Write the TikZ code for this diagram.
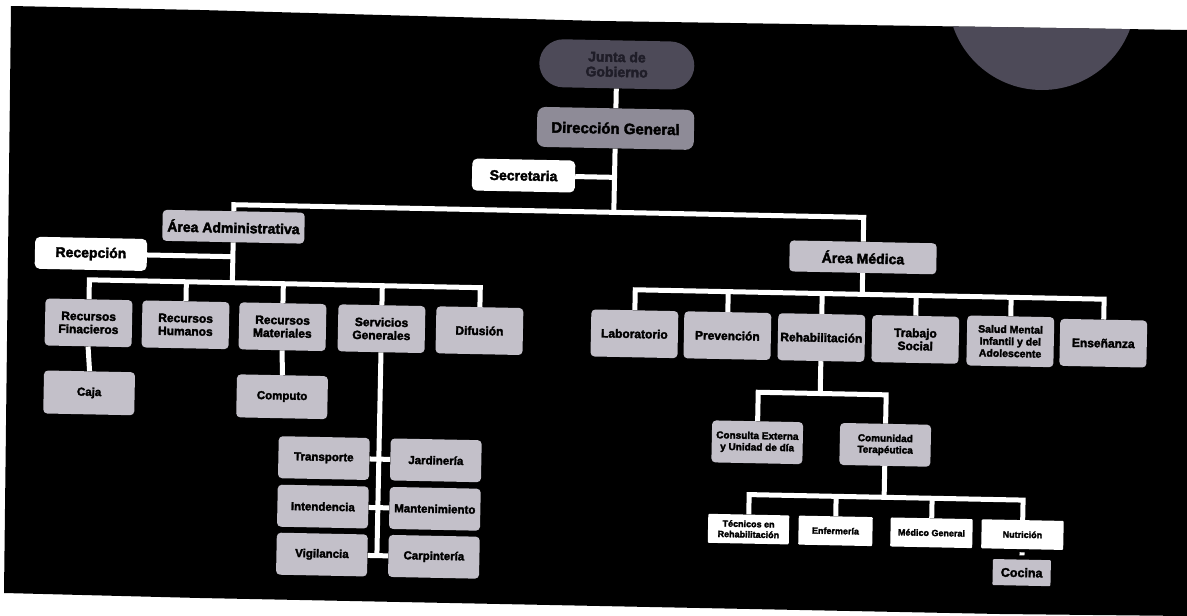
\documentclass[tikz,border=0pt]{standalone}
\usepackage{fontspec}
\setmainfont{Liberation Sans}[BoldFeatures={FakeBold=2.5}]
\definecolor{boxgray}{HTML}{C3C0C9}
\definecolor{dggray}{HTML}{8E8B97}
\definecolor{rootgray}{HTML}{4D4A58}
\definecolor{roottext}{HTML}{1F1D28}
\begin{document}
\begin{tikzpicture}[x=1pt,y=-1pt,
  conn/.style={draw=white, line width=5pt},
  base/.style={align=center, inner sep=1pt, text=black},
  gbox/.style={base, fill=boxgray, rounded corners=4pt},
  wbox/.style={base, fill=white, rounded corners=5pt},
  lvl/.style={font=\bfseries\fontsize{14}{15}\selectfont, minimum height=31pt},
  rowtwo/.style={gbox, font=\bfseries\fontsize{12}{13}\selectfont, minimum width=87pt, minimum height=47pt},
  rowthree/.style={gbox, font=\bfseries\fontsize{11.5}{12.5}\selectfont, minimum width=91pt, minimum height=42pt},
  smallw/.style={base, fill=white, rounded corners=1pt, font=\bfseries\fontsize{9}{10.5}\selectfont, minimum height=29pt}
]
\useasboundingbox (0,0) rectangle (1187,616);
\fill[white] (0,0) rectangle (1187,616);
% black sheet
\path[fill=black] (11,6) -- (200,10) -- (600,21) -- (1187,30) -- (1187,616) -- (1000,614) -- (200,598) -- (4,593) -- cycle;
\begin{scope}
  \clip (11,6) -- (200,10) -- (600,21) -- (1187,30) -- (1187,616) -- (4,593) -- cycle;
  \fill[rootgray] (1042,-4) circle[radius=94];
\end{scope}

\begin{scope}[rotate=-1.15, transform shape]
% nodes
\node[base, fill=rootgray, text=roottext, rounded corners=24pt, minimum width=155pt, minimum height=48pt,
      font=\bfseries\fontsize{14}{15}\selectfont] (J) at (618,52) {Junta de\\Gobierno};
\node[base, fill=dggray, rounded corners=8pt, minimum width=157pt, minimum height=40pt,
      font=\bfseries\fontsize{15}{16}\selectfont] (DG) at (618,116) {Dirección General};
\node[wbox, lvl, minimum width=103pt, minimum height=32pt] (S) at (527,165) {Secretaria};
\node[gbox, lvl, minimum width=142pt] (AA) at (238,222) {Área Administrativa};
\node[wbox, lvl, minimum width=112pt, minimum height=32pt] (R) at (96,252) {Recepción};
\node[gbox, lvl, minimum width=147pt] (AM) at (868,240) {Área Médica};

\node[rowtwo] (RF) at (95,321) {Recursos\\Finacieros};
\node[rowtwo] (RH) at (192,321) {Recursos\\Humanos};
\node[rowtwo] (RM) at (289,321) {Recursos\\Materiales};
\node[rowtwo] (SG) at (388,321) {Servicios\\Generales};
\node[rowtwo] (Dif) at (486,321) {Difusión};

\node[rowtwo] (Lab) at (641,321) {Laboratorio};
\node[rowtwo] (Prev) at (734,321) {Prevención};
\node[rowtwo] (Reh) at (828,321) {Rehabilitación};
\node[rowtwo] (TS) at (922,321) {Trabajo\\Social};
\node[rowtwo, minimum height=50pt, font=\bfseries\fontsize{10.5}{12}\selectfont] (SM) at (1017,321) {Salud Mental\\Infantil y del\\Adolescente};
\node[rowtwo] (Ens) at (1110,321) {Enseñanza};

\node[rowthree, minimum height=43pt] (Caja) at (97,391) {Caja};
\node[rowthree, minimum height=43pt] (Comp) at (290,391) {Computo};

\node[rowthree] (Tra) at (333,451.5) {Transporte};
\node[rowthree] (Jar) at (445,451.5) {Jardinería};
\node[rowthree] (Int) at (333,500) {Intendencia};
\node[rowthree] (Man) at (445,500) {Mantenimiento};
\node[rowthree] (Vig) at (333,548) {Vigilancia};
\node[rowthree] (Car) at (445,548) {Carpintería};

\node[rowthree, font=\bfseries\fontsize{10}{11.5}\selectfont] (CE) at (766,427) {Consulta Externa\\y Unidad de día};
\node[rowthree, font=\bfseries\fontsize{10}{11.5}\selectfont] (CT) at (894,427) {Comunidad\\Terapéutica};

\node[smallw, minimum width=81pt] (TR) at (759,514) {Técnicos en\\Rehabilitación};
\node[smallw, minimum width=74pt] (Enf) at (846,514) {Enfermería};
\node[smallw, minimum width=82pt] (MG) at (942,514) {Médico General};
\node[smallw, minimum width=82pt] (Nut) at (1033,514) {Nutrición};
\node[gbox, rounded corners=1pt, minimum width=58pt, minimum height=26pt, font=\bfseries\fontsize{12.5}{13}\selectfont] (Coc) at (1033,552) {Cocina};

% junction coordinates
\coordinate (m0) at (618,200);
\coordinate (ma) at (238,200);
\coordinate (mm) at (868,200);
\coordinate (ms) at (618,165);
\coordinate (ra) at (238,252);
\coordinate (la) at (238,278);
\coordinate (lb1) at (95,278);
\coordinate (lb2) at (486,278);
\coordinate (jRH) at (192,278);
\coordinate (jRM) at (289,278);
\coordinate (jSG) at (388,278);
\coordinate (sgb) at (388,548);
\coordinate (rm) at (868,277);
\coordinate (rb1) at (641,277);
\coordinate (rb2) at (1110,277);
\coordinate (jPrev) at (734,277);
\coordinate (jReh) at (828,277);
\coordinate (jTS) at (922,277);
\coordinate (jSM) at (1017,277);
\coordinate (rhb) at (828,377);
\coordinate (rhb1) at (766,377);
\coordinate (rhb2) at (894,377);
\coordinate (cb) at (894,479.5);
\coordinate (cb1) at (759,479.5);
\coordinate (cb2) at (1033,479.5);
\coordinate (jEnf) at (846,479.5);
\coordinate (jMG) at (942,479.5);

% connectors
\draw[conn] (J.south) -- (DG.north);
\draw[conn] (DG.south) -- (m0);
\draw[conn] (S.east) -- (ms);
\draw[conn] (AA.north) -- (ma) -- (mm) -- (AM.north);
\draw[conn] (R.east) -- (ra);
\draw[conn] (AA.south) -- (la);
\draw[conn] (RF.north) -- (lb1) -- (lb2) -- (Dif.north);
\draw[conn] (jRH) -- (RH.north);
\draw[conn] (jRM) -- (RM.north);
\draw[conn] (jSG) -- (SG.north);
\draw[conn] (RF.south) -- (Caja.north);
\draw[conn] (RM.south) -- (Comp.north);
\draw[conn] (SG.south) -- (sgb);
\draw[conn] (Tra.east) -- (Jar.west);
\draw[conn] (Int.east) -- (Man.west);
\draw[conn] (Vig.east) -- (Car.west);

\draw[conn] (AM.south) -- (rm);
\draw[conn] (Lab.north) -- (rb1) -- (rb2) -- (Ens.north);
\draw[conn] (jPrev) -- (Prev.north);
\draw[conn] (jReh) -- (Reh.north);
\draw[conn] (jTS) -- (TS.north);
\draw[conn] (jSM) -- (SM.north);
\draw[conn] (Reh.south) -- (rhb);
\draw[conn] (CE.north) -- (rhb1) -- (rhb2) -- (CT.north);
\draw[conn] (CT.south) -- (cb);
\draw[conn] (TR.north) -- (cb1) -- (cb2) -- (Nut.north);
\draw[conn] (jEnf) -- (Enf.north);
\draw[conn] (jMG) -- (MG.north);
\draw[conn, shorten <=3pt, shorten >=4pt] (Nut.south) -- (Coc.north);
\end{scope}
\end{tikzpicture}
\end{document}
